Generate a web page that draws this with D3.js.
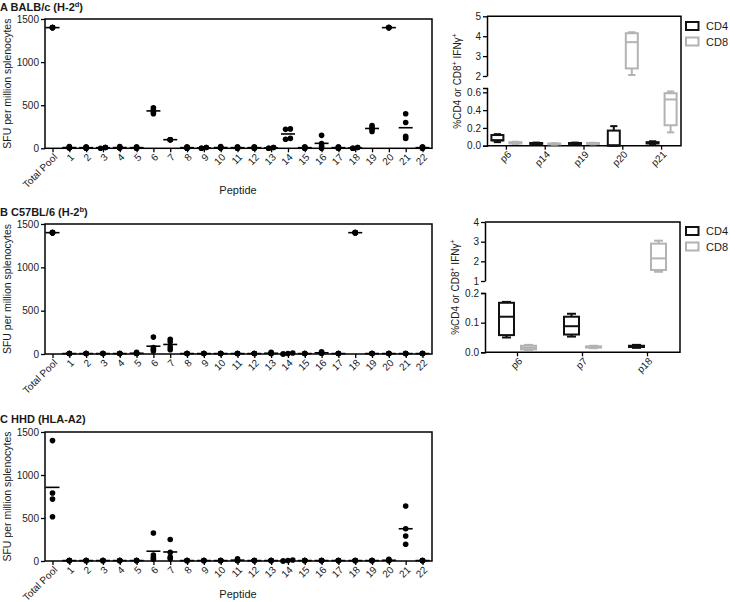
<!DOCTYPE html>
<html><head><meta charset="utf-8">
<script src="https://cdn.jsdelivr.net/npm/d3@7"></script>
<style>
body{margin:0;background:#fff}
svg{display:block}
text{font-family:"Liberation Sans",Arial,sans-serif;fill:#1a1a1a}
</style>
</head><body>
<svg id="c" width="730" height="602"></svg>
<script>
// ---------- DATA ----------
const categories = ["Total Pool","1","2","3","4","5","6","7","8","9","10","11","12","13","14","15","16","17","18","19","20","21","22"];
const sfuTicks = [0, 500, 1000, 1500];

// SFU per million splenocytes, one array of replicate mice per category
const sfuA = [
  [1400,1400,1400,1400],[20,5,5,5],[15,15,0,0],[10,10,10,0],[20,5,5,5],[15,15,0,0],
  [470,445,420,400],[100,100,100,100],[15,15,0,0],[10,10,0,0],[20,5,5,5],[15,15,0,0],
  [15,15,0,0],[10,10,0,0],[225,220,115,105],[15,15,0,0],[150,55,25,0],[15,15,0,0],
  [10,10,0,0],[265,240,220,195],[1400,1400,1400,1400],[400,300,140,115],[15,15,0,0]
];
const sfuB = [
  [1400,1400,1400,1400],[5,5,5,5],[5,5,5,5],[5,5,5,5],[5,5,5,5],[20,5,5,5],
  [195,75,55,35],[170,140,80,50],[5,5,5,5],[5,5,5,5],[5,5,5,5],[5,5,5,5],
  [5,5,5,5],[20,5,5,5],[12,6,0,0],[5,5,5,5],[25,10,10,10],[5,5,5,5],
  [1400,1400,1400,1400],[5,5,5,5],[5,5,5,5],[5,5,5,5],[5,5,5,5]
];
const sfuC = [
  [1400,790,720,515],[5,5,5,5],[5,5,5,5],[5,5,5,5],[5,5,5,5],[5,5,5,5],
  [325,70,40,20],[250,100,45,25],[5,5,5,5],[5,5,5,5],[5,5,5,5],[25,5,5,5],
  [5,5,5,5],[5,5,5,5],[12,6,0,0],[5,5,5,5],[5,5,5,5],[5,5,5,5],
  [5,5,5,5],[5,5,5,5],[20,5,5,5],[640,375,290,195],[5,5,5,5]
];

// %CD4 or CD8+ IFNγ+ : [min, q1, median, q3, max]
const peptidesA = ["p6","p14","p19","p20","p21"];
const cd4A = [[0.04,0.06,0.06,0.12,0.13],[0.015,0.02,0.025,0.03,0.035],[0.015,0.02,0.025,0.03,0.035],[0.0,0.0,0.005,0.17,0.22],[0.02,0.025,0.03,0.04,0.05]];
const cd8A = [[0.02,0.025,0.03,0.04,0.045],[0.012,0.015,0.02,0.025,0.028],[0.015,0.02,0.025,0.03,0.033],[2.05,2.38,3.7,4.15,4.2],[0.15,0.23,0.52,0.59,0.61]];
const upperTicksA = [2,3,4,5];
const lowerTicksA = [0,0.2,0.4,0.6];

const peptidesB = ["p6","p7","p18"];
const cd4B = [[0.05,0.058,0.12,0.167,0.17],[0.053,0.06,0.088,0.12,0.13],[0.015,0.018,0.02,0.022,0.025]];
const cd8B = [[0.008,0.01,0.015,0.022,0.025],[0.014,0.016,0.018,0.02,0.022],[1.47,1.56,2.15,2.9,3.05]];
const upperTicksB = [1,2,3,4];
const lowerTicksB = [0,0.1,0.2];

const seriesNames = ["CD4","CD8"];
const seriesColors = ["#111111","#b3b3b3"];

// ---------- DRAW ----------
const svg = d3.select("#c");
const FONT = '"Liberation Sans",Arial,sans-serif';

function styleAxis(sel, size) {
  sel.selectAll("text").attr("font-size", size).attr("font-family", FONT).attr("fill", "#1a1a1a");
  sel.selectAll("line").attr("stroke", "#000").attr("stroke-width", 1.3);
  sel.selectAll(".domain").attr("stroke", "#000").attr("stroke-width", 1.5);
}

function rotatedLabels(g, labels, xpos, y0) {
  labels.forEach(l => {
    g.append("g")
      .attr("transform", `translate(${xpos(l) + 3},${y0 + 7}) rotate(-45)`)
      .append("text")
      .attr("text-anchor", "end").attr("dy", "0.35em").attr("font-size", 10).text(l);
  });
}

function title(g, x, y, main, sup, tail) {
  const t = g.append("text").attr("x", x).attr("y", y).attr("font-size", 11).attr("font-weight", "bold");
  t.append("tspan").text(main);
  if (sup) {
    t.append("tspan").attr("dy", -4).attr("font-size", 7.5).text(sup);
    t.append("tspan").attr("dy", 4).text(tail);
  }
}

function scatterPanel(values, left, right, top, bottom, ttl, xLabelY) {
  const g = svg.append("g");
  const x = d3.scalePoint().domain(categories).range([left + 7.5, right - 9.5]);
  const y = d3.scaleLinear().domain([0, 1500]).range([bottom, top]);

  g.append("rect").attr("x", left).attr("y", top).attr("width", right - left).attr("height", bottom - top)
    .attr("fill", "none").attr("stroke", "#000").attr("stroke-width", 1.5);

  const ya = g.append("g").attr("transform", `translate(${left},0)`)
    .call(d3.axisLeft(y).tickValues(sfuTicks).tickFormat(d3.format("d")).tickSize(4).tickSizeOuter(0).tickPadding(2));
  ya.select(".domain").remove();
  styleAxis(ya, 10);

  const xa = g.append("g").attr("transform", `translate(0,${bottom})`)
    .call(d3.axisBottom(x).tickSize(4).tickSizeOuter(0).tickFormat(""));
  xa.select(".domain").remove();
  styleAxis(xa, 10);
  rotatedLabels(g, categories, x, bottom);

  const r = 2.8, thresh = 1.2, spacing = 4.8;
  values.forEach((vals, i) => {
    const cx = x(categories[i]);
    const uniq = Array.from(new Set(vals)).sort((a, b) => a - b);
    const clusters = [];
    uniq.forEach(v => {
      const last = clusters[clusters.length - 1];
      if (last && Math.abs(y(v) - y(last[last.length - 1])) < thresh) last.push(v);
      else clusters.push([v]);
    });
    const off = new Map();
    clusters.forEach(cl => cl.forEach((v, k) => off.set(v, (k - (cl.length - 1) / 2) * spacing)));
    vals.forEach(v => {
      g.append("circle").attr("cx", cx + off.get(v)).attr("cy", y(v)).attr("r", r).attr("fill", "#000");
    });
    const m = d3.mean(vals);
    g.append("line").attr("x1", cx - 7).attr("x2", cx + 7).attr("y1", y(m)).attr("y2", y(m))
      .attr("stroke", "#000").attr("stroke-width", 1.6);
  });

  g.append("text").attr("transform", `translate(11,${(top + bottom) / 2}) rotate(-90)`)
    .attr("text-anchor", "middle").attr("font-size", 10.5).text("SFU per million splenocytes");
  if (xLabelY) {
    g.append("text").attr("x", 238).attr("y", xLabelY).attr("text-anchor", "middle")
      .attr("font-size", 11).text("Peptide");
  }
  title(g, ttl.x, ttl.y, ttl.main, ttl.sup, ttl.tail);
}

function boxPanel(cfg) {
  const g = svg.append("g");
  const { left, right, top, bottom, upper, lower, peptides, cd4, cd8, off, bw } = cfg;
  const yu = d3.scaleLinear().domain(upper.domain).range(upper.range);
  const yl = d3.scaleLinear().domain(lower.domain).range(lower.range);
  const yv = v => v >= upper.domain[0] ? yu(v) : yl(v);
  const x = d3.scaleBand().domain(peptides).range([left, right]);
  const xc = p => x(p) + x.bandwidth() / 2;

  g.append("path").attr("d", `M${left},${top}H${right}V${bottom}H${left}`)
    .attr("fill", "none").attr("stroke", "#000").attr("stroke-width", 1.5);

  const au = g.append("g").attr("transform", `translate(${left},0)`)
    .call(d3.axisLeft(yu).tickValues(upper.ticks).tickFormat(d3.format("d")).tickSize(4).tickSizeOuter(0).tickPadding(2));
  styleAxis(au, 10);
  const al = g.append("g").attr("transform", `translate(${left},0)`)
    .call(d3.axisLeft(yl).tickValues(lower.ticks).tickFormat(d3.format(".1f")).tickSize(4).tickSizeOuter(4).tickPadding(2));
  styleAxis(al, 10);

  const xa = g.append("g").attr("transform", `translate(0,${bottom})`)
    .call(d3.axisBottom(x).tickSize(4).tickSizeOuter(0).tickFormat(""));
  xa.select(".domain").remove();
  styleAxis(xa, 10);
  rotatedLabels(g, peptides, xc, bottom);

  [cd4, cd8].forEach((series, s) => {
    const col = seriesColors[s];
    series.forEach((st, i) => {
      const cx = xc(peptides[i]) + (s === 0 ? -off : off);
      const [mn, q1, md, q3, mx] = st;
      const cw = bw * 0.6;
      const add = (x1, y1, x2, y2) => g.append("line").attr("x1", x1).attr("y1", y1).attr("x2", x2).attr("y2", y2)
        .attr("stroke", col).attr("stroke-width", 2);
      add(cx, yv(mx), cx, yv(q3));
      add(cx, yv(q1), cx, yv(mn));
      add(cx - cw / 2, yv(mx), cx + cw / 2, yv(mx));
      add(cx - cw / 2, yv(mn), cx + cw / 2, yv(mn));
      g.append("rect").attr("x", cx - bw / 2).attr("y", yv(q3)).attr("width", bw)
        .attr("height", Math.max(0.5, yv(q1) - yv(q3)))
        .attr("fill", "#fff").attr("stroke", col).attr("stroke-width", 2);
      add(cx - bw / 2, yv(md), cx + bw / 2, yv(md));
    });
  });

  const t = g.append("text").attr("transform", `translate(${left - 26},${(top + bottom) / 2}) rotate(-90)`)
    .attr("text-anchor", "middle").attr("font-size", 10);
  t.append("tspan").text("%CD4 or CD8");
  t.append("tspan").attr("dy", -4).attr("font-size", 7).text("+");
  t.append("tspan").attr("dy", 4).text(" IFNγ");
  t.append("tspan").attr("dy", -4).attr("font-size", 7).text("+");

  seriesNames.forEach((n, s) => {
    const ly = cfg.legendY + s * 15.5;
    g.append("rect").attr("x", 686).attr("y", ly).attr("width", 12.5).attr("height", 8)
      .attr("fill", "#fff").attr("stroke", seriesColors[s]).attr("stroke-width", 2);
    g.append("text").attr("x", 706).attr("y", ly + 8).attr("font-size", 11).text(n);
  });
}

scatterPanel(sfuA, 45, 432, 19, 148.3, { x: 0, y: 11, main: "A BALB/c (H-2", sup: "d", tail: ")" }, 194);
scatterPanel(sfuB, 45, 432, 224, 354, { x: 0, y: 216, main: "B C57BL/6 (H-2", sup: "b", tail: ")" }, null);
scatterPanel(sfuC, 45, 432, 432, 561, { x: 0, y: 423, main: "C HHD (HLA-A2)" }, 598);

boxPanel({
  left: 487, right: 681, top: 16.3, bottom: 145.7,
  upper: { domain: [2, 5], range: [76, 16.3], ticks: upperTicksA },
  lower: { domain: [0, 0.65], range: [145.7, 87.9], ticks: lowerTicksA },
  peptides: peptidesA, cd4: cd4A, cd8: cd8A, off: 9, bw: 12, legendY: 22
});
boxPanel({
  left: 485, right: 680, top: 222, bottom: 352.3,
  upper: { domain: [1, 4], range: [281, 222], ticks: upperTicksB },
  lower: { domain: [0, 0.2], range: [352.3, 293], ticks: lowerTicksB },
  peptides: peptidesB, cd4: cd4B, cd8: cd8B, off: 11, bw: 15, legendY: 227
});
</script>
</body></html>
